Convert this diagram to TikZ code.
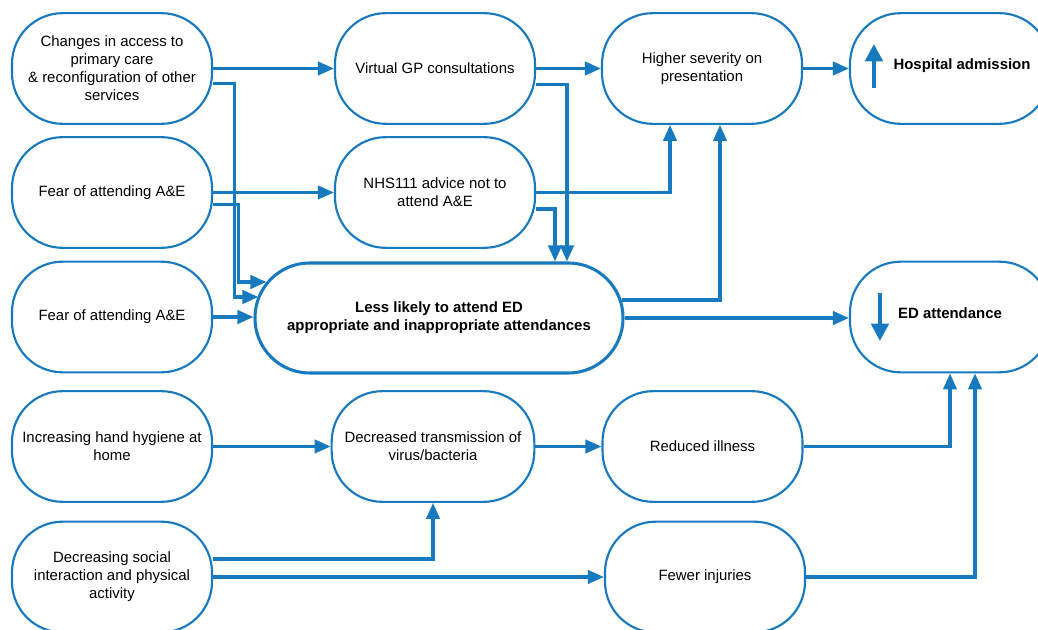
\documentclass[tikz,border=0pt]{standalone}
\usepackage{fontspec}
\setmainfont{Liberation Sans}
\usepackage{tikz}
\usetikzlibrary{arrows.meta,calc}
\definecolor{flowblue}{RGB}{24,122,190}

\begin{document}
\begin{tikzpicture}[x=0.75pt,y=-0.75pt,
  every node/.style={font=\fontsize{11.2}{13.5}\selectfont, align=center},
  stagebox/.style={draw=flowblue, line width=1.6pt, rounded corners=38pt,
    minimum width=150pt, minimum height=83pt, inner sep=2pt},
  arr/.style={draw=flowblue, line width=2.3pt, -{Triangle[length=12pt,width=10pt]}},
  bigarr/.style={draw=flowblue, line width=3pt, -{Triangle[length=13pt,width=13pt]}}]
  \useasboundingbox (0,0) rectangle (1038,630);
  \clip (0,0) rectangle (1038,630);
  % causes
  \node[stagebox] (chg) at (112,68.5) {Changes in access to\\primary care\\\& reconfiguration of other\\services};
  \node[stagebox] (fear1) at (112,192.5) {Fear of attending A\&E};
  \node[stagebox] (fear2) at (112,317) {Fear of attending A\&E};
  \node[stagebox] (hand) at (112,446.5) {Increasing hand hygiene at\\home};
  \node[stagebox] (soc) at (112,577) {Decreasing social\\interaction and physical\\activity};
  % middle column
  \node[stagebox] (vgp) at (435,68.5) {Virtual GP consultations};
  \node[stagebox] (nhs) at (435,192.5) {NHS111 advice not to\\attend A\&E};
  \node[stagebox, minimum width=276pt, minimum height=82.5pt, rounded corners=41pt,
    line width=2.3pt, font=\fontsize{11.2}{13.5}\selectfont\bfseries] (less) at (439,318)
    {Less likely to attend ED\\appropriate and inappropriate attendances};
  \node[stagebox, minimum width=152pt] (trans) at (433,446.5) {Decreased transmission of\\virus/bacteria};
  \node[stagebox] (sev) at (702,68.5) {Higher severity on\\presentation};
  \node[stagebox] (ill) at (702.5,446.5) {Reduced illness};
  \node[stagebox] (inj) at (705,577) {Fewer injuries};
  % outcomes
  \node[stagebox] (hosp) at (950,68.5) {};
  \node[font=\fontsize{11.2}{13.5}\selectfont\bfseries] (hospt) at (962,66) {Hospital admission};
  \draw[bigarr] ($(hosp.west)+(25,19.5)$) -- ($(hosp.west)+(25,-24.5)$);
  \node[stagebox] (ed) at (950,317) {};
  \node[font=\fontsize{11.2}{13.5}\selectfont\bfseries] (edt) at (950,313) {ED attendance};
  \draw[bigarr] ($(ed.west)+(31,-24)$) -- ($(ed.west)+(31,24)$);
  % links
  \draw[arr] (chg.east) -- (vgp.west);
  \draw[arr] ($(chg.east)+(0,15)$) -| ($(less.west)+(-19,-21)$) -- ($(less.west)+(5,-21)$);
  \draw[arr] ($(fear1.east)+(0,12)$) -| ($(less.west)+(-15,-36)$) -- ($(less.west)+(13,-36)$);
  \draw[arr] (fear1.east) -- (nhs.west);
  \draw[arr] (fear2.east) -- (fear2.east -| less.west);
  \draw[arr] (vgp.east) -- (sev.west);
  \draw[arr] ($(vgp.east)+(0,16)$) -| ($(less.north)+(128,0)$);
  \draw[arr] ($(nhs.east)+(0,16.5)$) -| ($(less.north)+(116,0)$);
  \draw[arr] (nhs.east) -| ($(sev.south)+(-32,0)$);
  \draw[arr] ($(less.east)+(-3,-18)$) -| ($(sev.south)+(18,0)$);
  \draw[arr] (less.east) -- (less.east -| ed.west);
  \draw[arr] (sev.east) -- (hosp.west);
  \draw[arr] (hand.east) -- (trans.west);
  \draw[arr] ($(soc.east)+(0,-18)$) -| (trans.south);
  \draw[arr] (soc.east) -- (inj.west);
  \draw[arr] (trans.east) -- (ill.west);
  \draw[arr] (ill.east) -| (ed.south);
  \draw[arr] (inj.east) -| ($(ed.south)+(25,0)$);
\end{tikzpicture}
\end{document}
